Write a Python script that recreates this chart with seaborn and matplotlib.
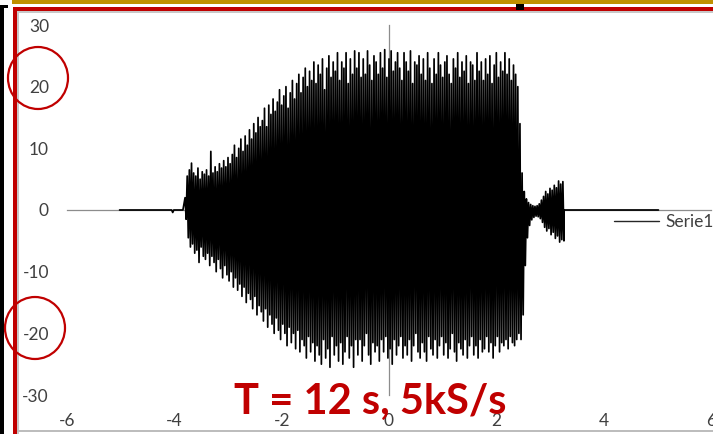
import numpy as np
import pandas as pd
import seaborn as sns
import matplotlib
matplotlib.use("Agg")
import matplotlib.pyplot as plt
from matplotlib.patches import Ellipse, Rectangle

# axis ticks
x_ticks = [-6, -4, -2, 0, 2, 4, 6]
y_ticks = [-30, -20, -10, 0, 10, 20, 30]

# quiet parts of the record before and after the burst (time s, value)
lead_in_t = [-5.02, -4.05, -4.03, -4.01, -3.84]
lead_in_v = [0.0, 0.0, -0.4, 0.0, 0.0]
lead_out_t = [3.26, 5.02]
lead_out_v = [0.0, 0.0]

# burst: successive positive peaks / negative troughs, one pair every 0.04 s from t = -3.80
burst_start = -3.80
burst_step = 0.04
upper_peaks = [
    2, 5.5, 6.5, 7.6, 6, 5.5, 6.8, 5, 6.2, 5.8,
    6.5, 5.5, 9.5, 6, 7, 6.2, 7.5, 6.8, 8, 7,
    8.5, 7.5, 9, 10.5, 8.5, 10, 11.5, 9.5, 12, 10.5,
    13, 11.5, 14, 12.5, 15, 13.5, 14.5, 16.5, 13.5, 17,
    15.5, 18, 16, 17.5, 19.5, 17, 18.5, 20, 16.5, 19,
    21, 18, 20.5, 22, 19, 21.5, 23, 20, 22.5, 21,
    24, 20.5, 23.5, 22, 24.5, 19.5, 23, 25, 21.5, 24,
    22.5, 25.5, 21, 24, 23, 25.5, 20.5, 24.5, 22, 25.8,
    23, 25.5, 21.5, 24.5, 22, 25.8, 23.5, 21, 25, 24,
    22, 25.5, 23, 26, 21.5, 24.5, 25.8, 22.5, 24, 25.5,
    23, 21, 25.5, 24, 22.5, 25.8, 20.5, 24, 23.5, 25,
    22, 24.5, 21, 25.5, 23, 20.5, 24.5, 22, 25.5, 23.5,
    21.5, 24, 25, 22, 20.5, 24.5, 23, 25.5, 21.5, 24,
    22.5, 25, 20.5, 24, 23.5, 21, 25.5, 22.5, 24, 21,
    24.5, 22, 25, 20.5, 23.5, 25.5, 21.5, 24, 22.5, 25.5,
    22, 24.5, 21, 23.5, 22, 20,
]
lower_peaks = [
    -1.5, -4.5, -6, -5.5, -7, -6.5, -8.5, -6, -7.5, -8,
    -7, -9, -7.5, -8.5, -10, -8, -9.5, -11, -9, -10.5,
    -11.5, -10, -12.5, -11, -13, -12, -14, -12.5, -15, -13.5,
    -14.5, -16, -14, -17, -15.5, -16.5, -18, -16, -19, -17,
    -18.5, -20, -17.5, -19.5, -21, -18.5, -20, -22, -19, -21.5,
    -20, -22.5, -19.5, -23, -21, -22, -24, -20.5, -23, -21.5,
    -24.5, -22, -23.5, -25, -21, -24, -22.5, -25.5, -20.5, -23.5,
    -22, -24.5, -21.5, -25, -23, -20.5, -24, -22, -25.5, -21,
    -23.5, -21, -24.5, -22, -20, -23.5, -25, -21.5, -23, -22,
    -24.5, -21, -23, -20.5, -24, -22.5, -25, -21, -23.5, -22,
    -20.5, -24, -22, -23.5, -21, -24.5, -22, -20, -23, -24,
    -21.5, -23, -24.5, -20.5, -22.5, -23.5, -21, -24, -22, -20.5,
    -23.5, -21.5, -24, -22.5, -20, -23, -24.5, -21.5, -22.5, -23.5,
    -21, -24, -22, -20.5, -23.5, -22, -24, -21, -23, -22.5,
    -20.5, -23, -21.5, -24, -22, -20.5, -23, -21.5, -22, -21,
    -22.5, -20.5, -21.5, -22, -21, -20,
]
# decay after the cut-off and the short second burst
tail_upper = [14, 6, 3, 1.8, 1.2, 0.9, 0.7, 0.6, 0.7, 1.0, 1.6,
              2.2, 3.0, 2.6, 3.5, 3.2, 4.0, 3.6, 4.7, 4.2, 4.6]
tail_lower = [-21, -17, -9, -4.5, -2.5, -1.6, -1.2, -1.0, -1.1, -1.4, -2.0,
              -2.8, -3.4, -3.0, -4.0, -3.6, -4.6, -4.2, -5.2, -4.8, -5.0]

# assemble the trace: peak, trough, peak, trough ...
ups = np.array(upper_peaks + tail_upper, dtype=float)
lows = np.array(lower_peaks + tail_lower, dtype=float)
n = len(ups)
t_peak = burst_start + burst_step * np.arange(n)
burst_t = np.empty(2 * n)
burst_v = np.empty(2 * n)
burst_t[0::2] = t_peak
burst_t[1::2] = t_peak + burst_step / 2
burst_v[0::2] = ups
burst_v[1::2] = lows

df = pd.DataFrame({
    "t": np.concatenate([lead_in_t, burst_t, lead_out_t]),
    "v": np.concatenate([lead_in_v, burst_v, lead_out_v]),
})

sns.set_style("white")
plt.rcParams["font.family"] = ["Lato", "DejaVu Sans"]
plt.rcParams["axes.unicode_minus"] = False

W, H = 713, 434
fig = plt.figure(figsize=(W / 100, H / 100), dpi=100)
fig.patch.set_facecolor("white")


def fx(px):
    return px / W


def fy(py):
    return 1 - py / H


rect = [fx(67), fy(395), fx(711) - fx(67), (395 - 25) / H]
ax = fig.add_axes(rect)
sns.lineplot(data=df, x="t", y="v", estimator=None, sort=False, color="black",
             lw=1.25, ax=ax, label="Serie1", zorder=3)
ax.set_xlim(-6, 6)
ax.set_ylim(-30, 30)
ax.set_xlabel("")
ax.set_ylabel("")
axis_grey = "#8C8C8C"
for side in ("top", "right"):
    ax.spines[side].set_visible(False)
ax.spines["left"].set_position("zero")
ax.spines["bottom"].set_position("zero")
for side in ("left", "bottom"):
    ax.spines[side].set_color(axis_grey)
    ax.spines[side].set_linewidth(0.9)
    ax.spines[side].set_zorder(1)
ax.set_xticks(x_ticks)
ax.set_yticks(y_ticks)
ax.tick_params(direction="out", length=4, width=0.9, color=axis_grey,
               labelleft=False, labelbottom=False)
ax.set_axisbelow(True)
ax.patch.set_alpha(0)

leg = ax.legend(loc="center left", bbox_to_anchor=(fx(614), fy(222)),
                bbox_transform=fig.transFigure, frameon=False, handlelength=2.6,
                handletextpad=0.35, borderaxespad=0, borderpad=0, fontsize=12.5)
for txt in leg.get_texts():
    txt.set_color("#404040")
for h in leg.legend_handles:
    h.set_linewidth(1.0)
    h.set_color("#262626")

# tick labels sit on the outer edges of the plot area
lab = fig.add_axes(rect, facecolor="none")
lab.set_xlim(-6, 6)
lab.set_ylim(-30, 30)
lab.set_xticks(x_ticks)
lab.set_xticklabels([str(v) for v in x_ticks])
lab.set_yticks(y_ticks)
lab.set_yticklabels([str(v) for v in y_ticks])
lab.tick_params(length=0, labelsize=12.5, labelcolor="#404040")
lab.tick_params(axis="y", pad=13)
lab.tick_params(axis="x", pad=13)
for s in lab.spines.values():
    s.set_visible(False)
lab.grid(False)
lab.set_zorder(ax.get_zorder() - 1)


def band(x0, y0, x1, y1, color):
    fig.add_artist(Rectangle((fx(x0), fy(y1)), fx(x1) - fx(x0), (y1 - y0) / H,
                             transform=fig.transFigure, facecolor=color,
                             edgecolor="none", zorder=5))


red = "#C00000"
# slide frame around the chart
band(12, 0, W, 4, "#BF9000")
band(13, 7, W, 11, red)
band(17, 11, W, 13, "#C8C8C8")
band(13, 7, 17, H, red)
band(17, 11, 19, H, "#C8C8C8")
band(0, 5, 4, H, "black")
band(0, 5, 8, 8, "black")
band(17, 430, W, 432, "#BDBDBD")
band(516, 4, 524, 10, "black")

# highlight rings around two of the amplitude labels
for cx, cy in [(38, 78), (35, 328)]:
    fig.add_artist(Ellipse((fx(cx), fy(cy)), 60 / W, 62 / H, transform=fig.transFigure,
                           facecolor="none", edgecolor=red, lw=1.6, zorder=6))

fig.text(fx(370), fy(402), "T = 12 s, 5kS/s", ha="center", va="center",
         color=red, fontsize=30, fontweight="bold", zorder=7)

fig.savefig("out.png", dpi=100)
